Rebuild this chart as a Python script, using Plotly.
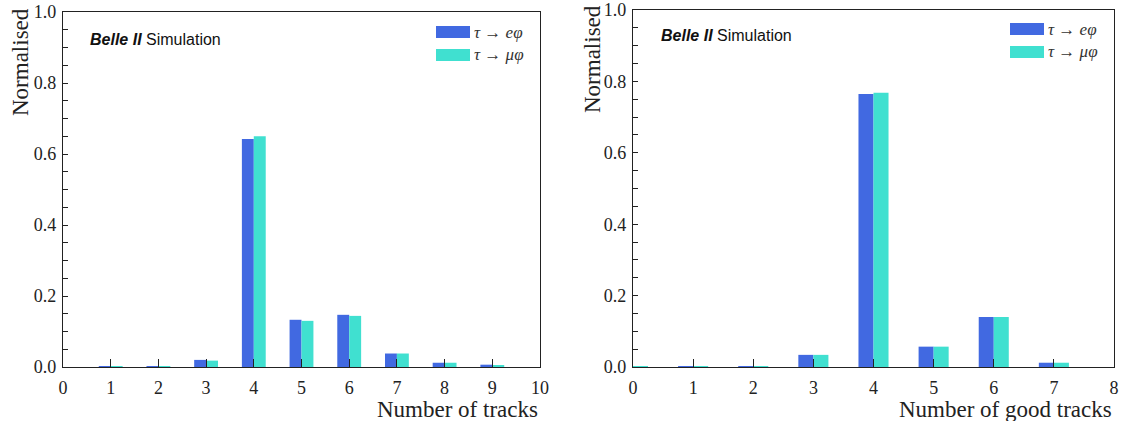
import plotly.graph_objects as go
from plotly.subplots import make_subplots

# ---------------- data ----------------
bins_tracks = [0, 1, 2, 3, 4, 5, 6, 7, 8, 9]
e_tracks = [0.0, 0.0006, 0.0006, 0.020, 0.642, 0.133, 0.147, 0.038, 0.012, 0.0065]
mu_tracks = [0.0, 0.0006, 0.0006, 0.018, 0.650, 0.130, 0.144, 0.038, 0.012, 0.0056]

bins_good = [0, 1, 2, 3, 4, 5, 6, 7]
e_good = [0.001, 0.0012, 0.0012, 0.034, 0.765, 0.057, 0.140, 0.012]
mu_good = [0.0018, 0.0012, 0.0012, 0.034, 0.768, 0.057, 0.140, 0.012]

xticks_tracks = list(range(0, 11))
xticks_good = list(range(0, 9))
label_e = "<i>τ</i> → <i>eφ</i>"
label_mu = "<i>τ</i> → <i>μφ</i>"
xtitle_tracks = "Number of tracks"
xtitle_good = "Number of good tracks"
ytitle = "Normalised"

C_E = "#4169E1"   # royalblue
C_MU = "#40E0D0"  # turquoise

W, H = 1124, 421
SERIF = "Liberation Serif"
SANS = "Liberation Sans"

fig = make_subplots(rows=1, cols=2)

for col, bins, ev, mv in [(1, bins_tracks, e_tracks, mu_tracks), (2, bins_good, e_good, mu_good)]:
    fig.add_trace(go.Bar(x=bins, y=ev, offset=-0.25, width=0.25, marker=dict(color=C_E, line=dict(width=0)),
                         name=label_e, showlegend=False), row=1, col=col)
    fig.add_trace(go.Bar(x=bins, y=mv, offset=0.0, width=0.25, marker=dict(color=C_MU, line=dict(width=0)),
                         name=label_mu, showlegend=False), row=1, col=col)

# pixel -> paper helpers
def px(x):
    return x / W

def py(y):
    return (H - y) / H

panels = [
    dict(x0=63, x1=540, y0=367, y1=12, xr=[0, 10], xt=xticks_tracks, title=xtitle_tracks),
    dict(x0=633, x1=1114, y0=367, y1=10, xr=[0, 8], xt=xticks_good, title=xtitle_good),
]

axis_common = dict(showline=True, linecolor="#222222", linewidth=1.3, mirror=True, automargin=False,
                   ticks="inside", tickcolor="#222222", tickwidth=1.3, showgrid=False, zeroline=False,
                   tickfont=dict(family=SERIF, size=18, color="#222222"))

for i, p in enumerate(panels):
    xa = "xaxis" if i == 0 else "xaxis2"
    ya = "yaxis" if i == 0 else "yaxis2"
    fig.layout[xa].update(domain=[px(p["x0"]), px(p["x1"])], range=p["xr"], tickvals=p["xt"],
                          ticklen=8, ticklabelstandoff=4, **axis_common)
    fig.layout[ya].update(domain=[py(p["y0"]), py(p["y1"])], range=[0, 1], tickvals=[0, 0.2, 0.4, 0.6, 0.8, 1.0],
                          tickformat=".1f", ticklen=5, ticklabelstandoff=2,
                          minor=dict(ticks="inside", ticklen=5, dtick=0.05, tick0=0, tickcolor="#222222", tickwidth=1.1),
                          **axis_common)

annotations = []
shapes = []
# axis titles
annotations.append(dict(text=xtitle_tracks, x=px(540), y=py(409), xref="paper", yref="paper",
                        xanchor="right", yanchor="middle", showarrow=False,
                        font=dict(family=SERIF, size=23, color="#222222")))
annotations.append(dict(text=xtitle_good, x=px(1114), y=py(409), xref="paper", yref="paper",
                        xanchor="right", yanchor="middle", showarrow=False,
                        font=dict(family=SERIF, size=23, color="#222222")))
for xx, ytop in [(20, 6), (592, 3)]:
    annotations.append(dict(text=ytitle, x=px(xx), y=py(ytop), xref="paper", yref="paper",
                            xanchor="center", yanchor="top", textangle=-90, showarrow=False,
                            font=dict(family=SERIF, size=23, color="#222222")))

# Belle II Simulation labels
for xx, yy in [(88, 40), (659, 35)]:
    annotations.append(dict(text="<b><i>Belle II</i></b> Simulation", x=px(xx), y=py(yy), xref="paper", yref="paper",
                            xanchor="left", yanchor="middle", showarrow=False,
                            font=dict(family=SANS, size=16, color="#111111")))

# legends
for lx, ly in [(436, 26), (1010, 23)]:
    for k, (c, lab) in enumerate([(C_E, label_e), (C_MU, label_mu)]):
        y0 = ly + k * 23
        shapes.append(dict(type="rect", xref="paper", yref="paper", x0=px(lx), x1=px(lx + 34),
                           y0=py(y0 + 12), y1=py(y0), fillcolor=c, line=dict(width=0)))
        annotations.append(dict(text=lab, x=px(lx + 36), y=py(y0 + 6), xref="paper", yref="paper",
                                xanchor="left", yanchor="middle", showarrow=False,
                                font=dict(family=SERIF, size=17, color="#333333")))

fig.update_layout(width=W, height=H, margin=dict(l=0, r=0, t=0, b=0),
                  paper_bgcolor="white", plot_bgcolor="white", barmode="overlay",
                  annotations=annotations, shapes=shapes, showlegend=False)

fig.write_html("out.html", config={"displayModeBar": False},
               post_script="document.body.style.margin='0px';document.body.style.overflow='hidden';")
